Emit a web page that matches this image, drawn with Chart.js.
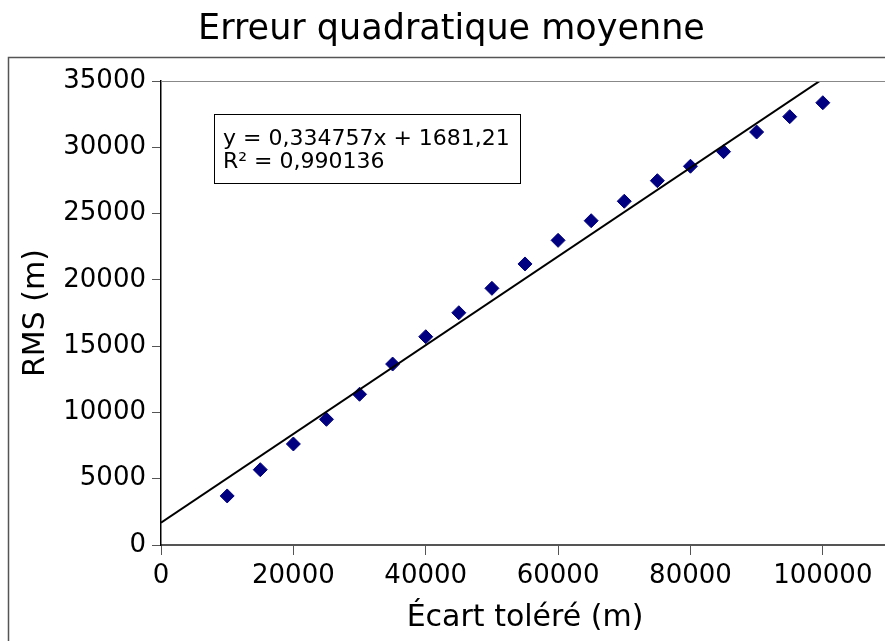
<!DOCTYPE html>
<html>
<head>
<meta charset="utf-8">
<title>Erreur quadratique moyenne</title>
<script src="https://cdn.jsdelivr.net/npm/chart.js@4.4.0/dist/chart.umd.min.js"></script>
<style>
  html, body { margin: 0; padding: 0; background: #fff; overflow: hidden; }
  #wrap { width: 897px; height: 641px; }
</style>
</head>
<body>
<div id="wrap"><canvas id="rmsChart" width="897" height="641"></canvas></div>
<script>
// Écart toléré (m) et RMS mesuré (m)
const ecarts = [10000, 15000, 20000, 25000, 30000, 35000, 40000, 45000, 50000, 55000,
  60000, 65000, 70000, 75000, 80000, 85000, 90000, 95000, 100000];
const rms = [3700, 5680, 7620, 9480, 11370, 13650, 15710, 17520, 19360, 21200,
  22980, 24460, 25930, 27480, 28570, 29670, 31150, 32310, 33360];

// régression linéaire affichée dans l'encadré
const pente = 0.334757;
const ordonnee = 1681.21;
const r2 = 0.990136;
const tendanceX = [0, 110000];

const xTicks = [0, 20000, 40000, 60000, 80000, 100000];
const yTicks = [0, 5000, 10000, 15000, 20000, 25000, 30000, 35000];

const FONT = 'DejaVu Sans';
const frFmt = (v, d) => v.toFixed(d).replace('.', ',');

const points = ecarts.map((x, i) => ({ x, y: rms[i] }));
const tendance = tendanceX.map(x => ({ x, y: pente * x + ordonnee }));

// cadre, bord supérieur du graphe et encadré de l'équation
const decor = {
  id: 'decor',
  beforeDraw(chart) {
    const ctx = chart.ctx;
    ctx.save();
    ctx.strokeStyle = '#555';
    ctx.lineWidth = 1.5;
    ctx.strokeRect(8.5, 57.5, 2000, 2000);
    ctx.restore();
  },
  afterDraw(chart) {
    const ctx = chart.ctx;
    const a = chart.chartArea;
    ctx.save();
    ctx.strokeStyle = '#888';
    ctx.lineWidth = 1;
    ctx.beginPath();
    ctx.moveTo(a.left, a.top + 0.5);
    ctx.lineTo(chart.width, a.top + 0.5);
    ctx.stroke();

    const bx = a.left + 53, by = a.top + 33;
    ctx.fillStyle = '#fff';
    ctx.fillRect(bx, by, 306, 69);
    ctx.strokeStyle = '#000';
    ctx.strokeRect(bx + 0.5, by + 0.5, 306, 69);
    ctx.fillStyle = '#000';
    ctx.font = '22px "' + FONT + '"';
    ctx.textBaseline = 'alphabetic';
    ctx.fillText('y = ' + frFmt(pente, 6) + 'x + ' + frFmt(ordonnee, 2), bx + 9, by + 31);
    ctx.fillText('R² = ' + frFmt(r2, 6), bx + 9, by + 54);
    ctx.restore();
  }
};

new Chart(document.getElementById('rmsChart'), {
  type: 'scatter',
  data: {
    datasets: [
      {
        label: 'Tendance',
        data: tendance,
        showLine: true,
        borderColor: '#000',
        borderWidth: 2,
        pointRadius: 0,
        clip: 0
      },
      {
        label: 'RMS',
        data: points,
        pointStyle: 'rectRot',
        pointRadius: 7,
        pointHoverRadius: 7,
        backgroundColor: '#000080',
        borderColor: '#000080',
        borderWidth: 1
      }
    ]
  },
  options: {
    responsive: false,
    animation: false,
    layout: { padding: { left: 6, right: 0, top: 0, bottom: 0 } },
    plugins: {
      legend: { display: false },
      tooltip: { enabled: false },
      title: {
        display: true,
        text: 'Erreur quadratique moyenne',
        color: '#000',
        font: { family: FONT, size: 35, weight: 'normal' },
        padding: { top: 9, bottom: 30 }
      }
    },
    scales: {
      x: {
        type: 'linear',
        min: 0,
        max: 110000,
        afterBuildTicks: s => { s.ticks = xTicks.map(v => ({ value: v })); },
        afterFit: s => { s.height = 96; },
        ticks: {
          color: '#000',
          padding: 6,
          maxRotation: 0,
          font: { family: FONT, size: 26 },
          callback: v => String(v)
        },
        grid: { drawOnChartArea: false, tickLength: 10, color: '#555', lineWidth: 1 },
        border: { color: '#555', width: 2 },
        title: {
          display: true,
          text: 'Écart toléré (m)',
          color: '#000',
          font: { family: FONT, size: 30 },
          padding: { top: 2, bottom: 5 }
        }
      },
      y: {
        min: 0,
        max: 35000,
        afterBuildTicks: s => { s.ticks = yTicks.map(v => ({ value: v })); },
        afterFit: s => { s.width = 155; },
        ticks: {
          color: '#000',
          padding: 6,
          font: { family: FONT, size: 26 },
          callback: v => String(v)
        },
        grid: { drawOnChartArea: false, tickLength: 9, color: '#555', lineWidth: 1 },
        border: { color: '#000', width: 1.5 },
        title: {
          display: true,
          text: 'RMS (m)',
          color: '#000',
          font: { family: FONT, size: 30 },
          padding: { top: 12, bottom: 0 }
        }
      }
    }
  },
  plugins: [decor]
});
</script>
</body>
</html>
